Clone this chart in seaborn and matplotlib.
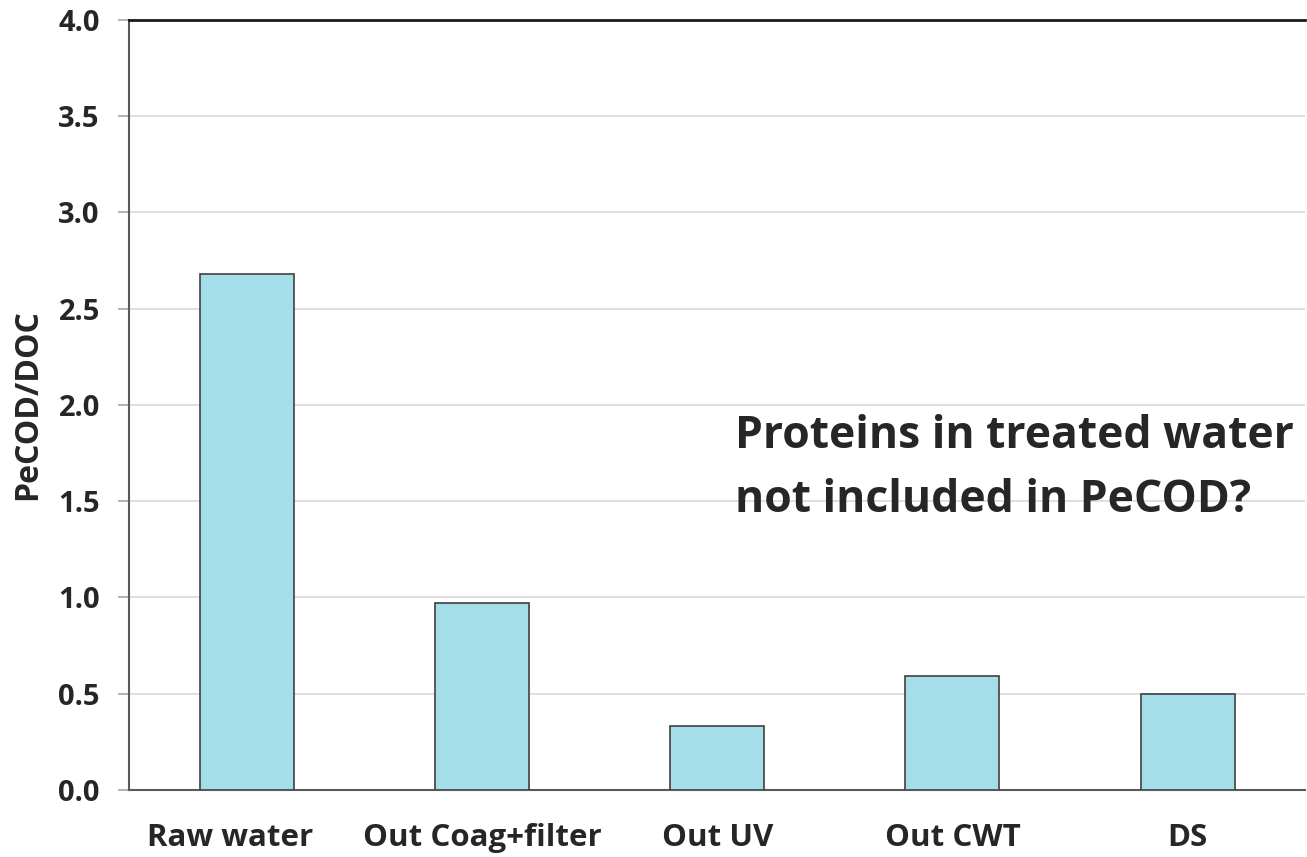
import pandas as pd
import seaborn as sns
import matplotlib.pyplot as plt
import matplotlib.transforms as mtransforms
import numpy as np

stages = ['Raw water', 'Out Coag+filter', 'Out UV', 'Out CWT', 'DS']
ratio = [2.68, 0.97, 0.33, 0.59, 0.50]
yticks = [0.0, 0.5, 1.0, 1.5, 2.0, 2.5, 3.0, 3.5, 4.0]

df = pd.DataFrame({'Stage': stages, 'PeCOD/DOC': ratio})

sns.set_style('white')
plt.rcParams['font.family'] = ['Open Sans', 'DejaVu Sans']

fig = plt.figure(figsize=(13.07, 8.57), dpi=100)
ax = fig.add_axes([0.0987, 0.0782, 0.9, 0.8985])

sns.barplot(data=df, x='Stage', y='PeCOD/DOC', color='#A4DEE8', width=0.4,
            edgecolor='#404040', linewidth=1.2, saturation=1, ax=ax, zorder=3)

ax.set_xlim(-0.5, len(stages) - 0.5)
ax.set_ylim(0, 4.0)
ax.set_yticks(yticks)
ax.set_yticklabels([f'{v:.1f}' for v in yticks], fontsize=21, fontweight='bold')
ax.yaxis.grid(True, color='#D9D9D9', linewidth=1.2, zorder=0)

# category labels at centres, tick marks at the boundaries
ax.set_xticks(range(len(stages)))
ax.set_xticklabels(stages, fontsize=22.5, fontweight='bold')
ax.tick_params(axis='x', which='major', length=0, pad=24)
ax.set_xticks(np.arange(-0.5, len(stages), 1.0), minor=True)
ax.tick_params(axis='x', which='minor', length=8, color='#A6A6A6', width=1.2)
ax.tick_params(axis='y', length=8, color='#A6A6A6', width=1.2, pad=13, left=True)

ax.set_xlabel('')
ax.set_ylabel('PeCOD/DOC', fontsize=23, fontweight='bold', labelpad=10)

# first label sits a little left of its bar in the original
lab0 = ax.get_xticklabels()[0]
lab0.set_transform(lab0.get_transform() +
                   mtransforms.ScaledTranslation(-0.17, 0, fig.dpi_scale_trans))

for side in ['left', 'bottom']:
    ax.spines[side].set_color('#595959')
    ax.spines[side].set_linewidth(1.5)
ax.spines['top'].set_color('#1a1a1a')
ax.spines['top'].set_linewidth(2)
ax.spines['right'].set_visible(False)

ax.text(0.515, 0.488, 'Proteins in treated water\nnot included in PeCOD?',
        transform=ax.transAxes, fontsize=32, fontweight='bold', va='top', ha='left',
        linespacing=1.55)

plt.savefig('out.png', dpi=100)
